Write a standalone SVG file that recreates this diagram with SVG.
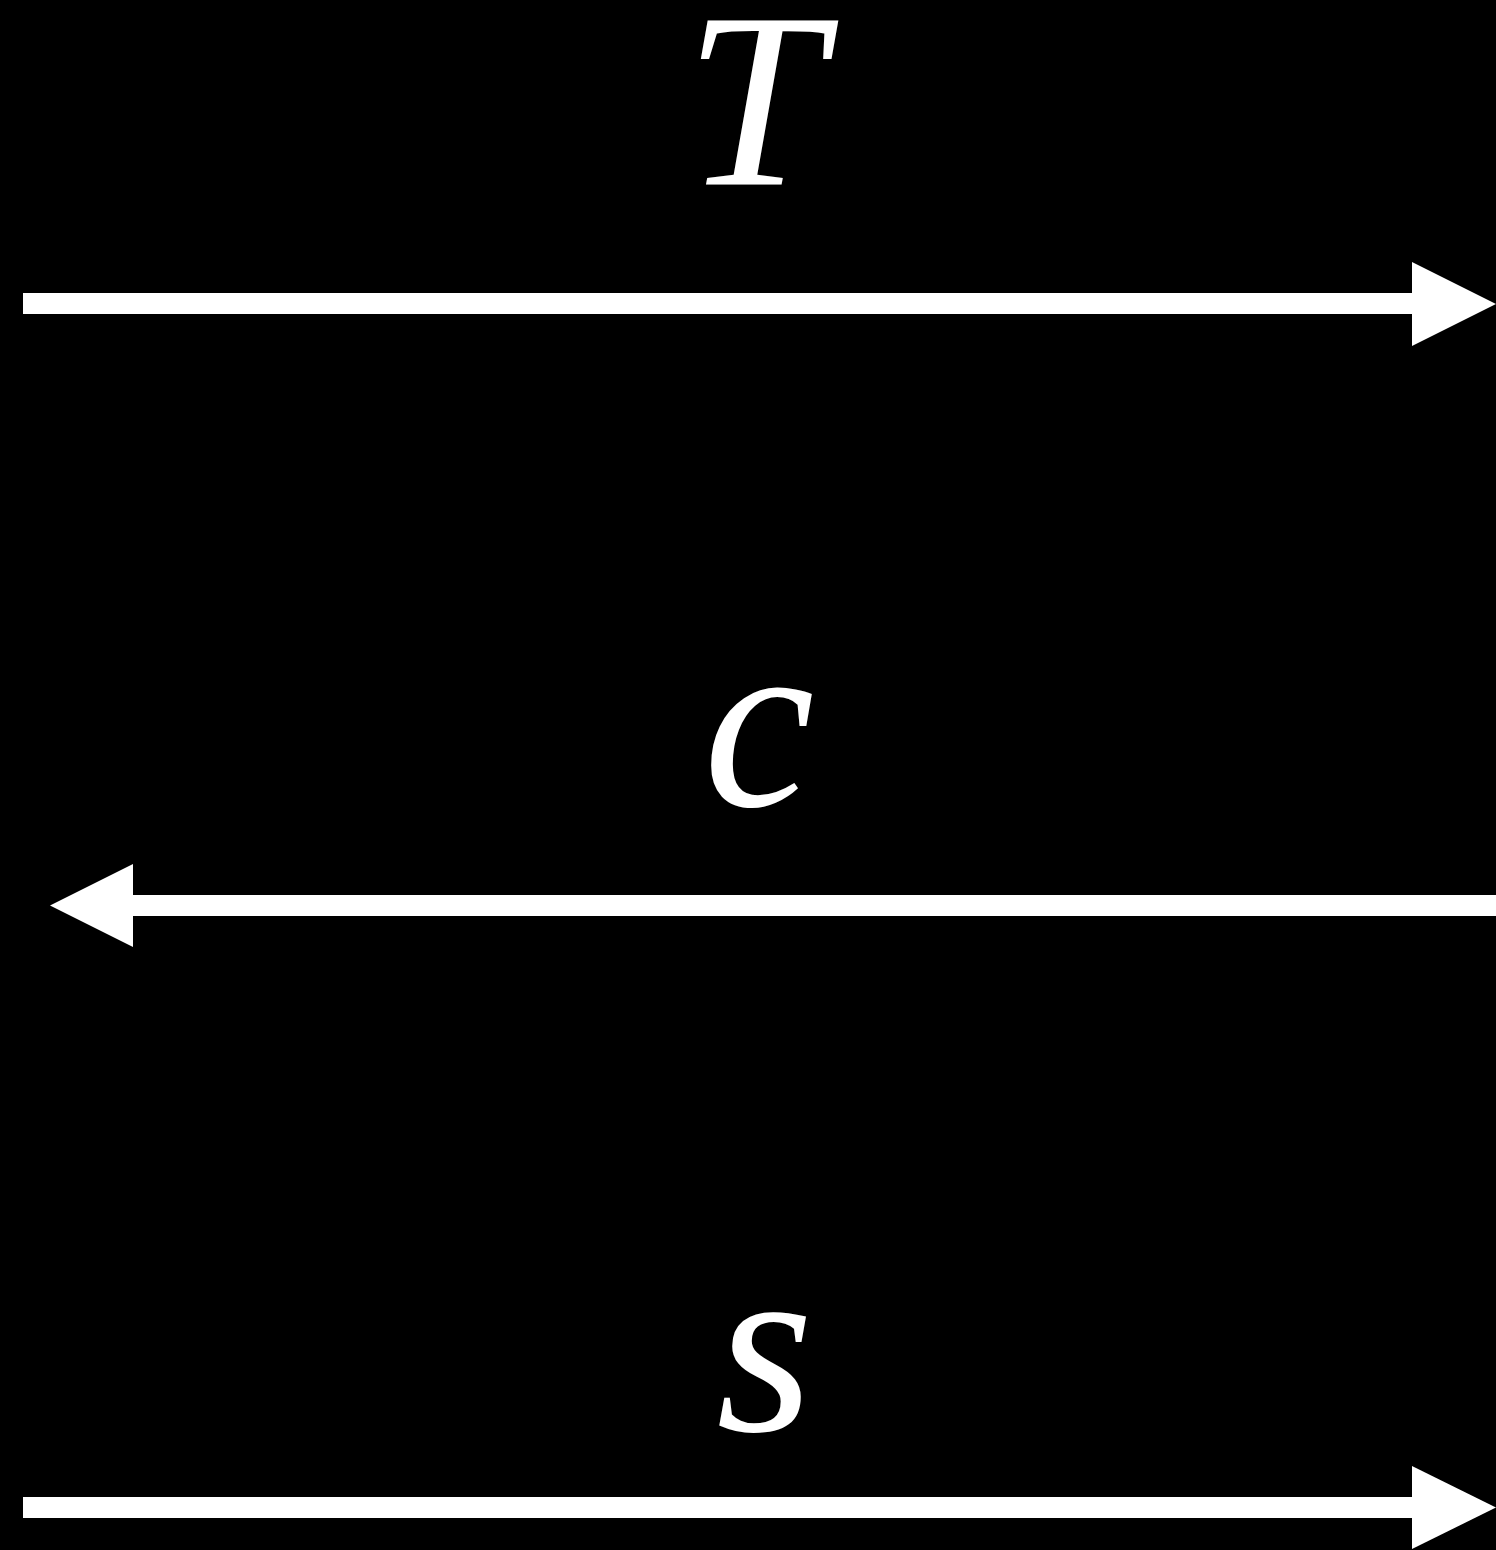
<svg xmlns="http://www.w3.org/2000/svg" width="1496" height="1550" viewBox="0 0 1496 1550">
<rect x="0" y="0" width="1496" height="1550" fill="#000"/>
<g font-family="Liberation Serif, 'Times New Roman', serif" font-style="italic" font-size="250" fill="#fff" text-anchor="middle">
<g id="label-T"><text x="754" y="184">T</text></g>
<g id="label-c"><text x="759" y="806">c</text></g>
<g id="label-s"><text x="765" y="1431">s</text></g>
</g>
<g id="connectors" fill="#fff">
<g id="arrow-T">
<rect x="23" y="293" width="1390" height="21"/>
<polygon points="1412,262 1496,304 1412,346"/>
</g>
<g id="arrow-c">
<rect x="132" y="895" width="1364" height="21"/>
<polygon points="133,864 50,905.5 133,947"/>
</g>
<g id="arrow-s">
<rect x="23" y="1497" width="1390" height="21"/>
<polygon points="1412,1466 1496,1507.5 1412,1549"/>
</g>
</g>
</svg>
